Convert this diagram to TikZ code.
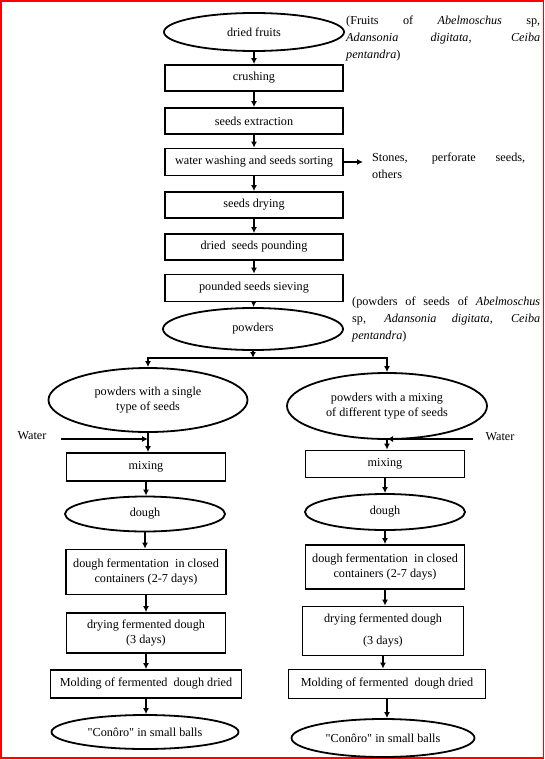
\documentclass[tikz,border=0pt]{standalone}
\usepackage{fontspec}
\setmainfont{Liberation Serif}
\newfontfamily\plainserif{Liberation Serif}
\newcommand{\sq}{{\plainserif"}}
\usetikzlibrary{shapes.geometric,arrows.meta,positioning}

\begin{document}
\begin{tikzpicture}[x=1pt,y=-1pt,
	font=\fontsize{12.2}{15}\selectfont,
	box/.style={draw, line width=1.8pt, inner sep=0pt, align=center},
	oval/.style={ellipse, draw, line width=1.8pt, inner sep=0pt, align=center},
	arr/.style={-{Latex[length=6pt,width=6pt]}, line width=1.3pt},
	twoarr/.style={{Latex[length=6pt,width=6pt]}-{Latex[length=6pt,width=6pt]}, line width=1.3pt},
	note/.style={anchor=north west, inner sep=0pt, align=justify,
		font=\fontsize{12.2}{17}\selectfont}]
		\useasboundingbox (0,0) rectangle (545,760);
		\draw[red, line width=1.5pt] (1,1) rectangle (543.5,758);
		
		% main stem
		\node[oval, minimum width=180, minimum height=38] (11) at (254,32) {dried fruits};
		\node[box, minimum width=178, minimum height=26] (12) at (254,78) {crushing};
		\node[box, minimum width=178, minimum height=26] (13) at (254,121) {seeds extraction};
		\node[box, minimum width=178, minimum height=27] (14) at (254,162) {water washing and seeds sorting};
		\node[box, minimum width=178, minimum height=26] (15) at (254,205) {seeds drying};
		\node[box, minimum width=178, minimum height=26] (16) at (254,247) {dried~ seeds pounding};
		\node[box, minimum width=178, minimum height=27] (17) at (254,288) {pounded seeds sieving};
		\node[oval, minimum width=180, minimum height=42] (18) at (253,329) {powders};
		
		\node[note, text width=194] (51) at (346,16) {(Fruits of \textit{Abelmoschus} sp,\linebreak \textit{Adansonia digitata, Ceiba}\linebreak \textit{pentandra})};
		\node[note, text width=153] (53) at (372,153) {Stones, perforate seeds,\linebreak others};
		\node[note, text width=188] (52) at (352,297) {(powders of seeds of \textit{Abelmoschus}\linebreak sp, \textit{Adansonia digitata, Ceiba}\linebreak \textit{pentandra})};
		\coordinate (s1) at (363,162);
		\coordinate (sp) at (253,358);
		
		% left branch
		\node[oval, minimum width=199, minimum height=64] (21) at (148,400) {powders with a single\\type of seeds};
		\node[box, minimum width=159, minimum height=28] (22) at (146,467) {mixing};
		\node[oval, minimum width=160, minimum height=35] (23) at (145,514) {dough};
		\node[box, minimum width=160, minimum height=45] (24) at (146,572) {dough fermentation~ in closed\\containers (2-7 days)};
		\node[box, minimum width=159, minimum height=40] (25) at (146,633) {drying fermented dough\\(3 days)};
		\node[box, minimum width=191, minimum height=28] (26) at (146,684) {Molding of fermented~ dough dried};
		\node[oval, minimum width=187, minimum height=34] (27) at (145,732) {\sq Conôro\sq{} in small balls};
		\node[inner sep=0pt] (54) at (32,436) {Water};
		\coordinate (w1) at (61,439);
		
		% right branch
		\node[oval, minimum width=200, minimum height=66] (31) at (387,406) {powders with a mixing\\of different type of seeds};
		\node[box, minimum width=159, minimum height=27] (32) at (385,464) {mixing};
		\node[oval, minimum width=160, minimum height=36] (33) at (385,512) {dough};
		\node[box, minimum width=159, minimum height=44] (34) at (385,567) {dough fermentation~ in closed\\containers (2-7 days)};
		\node[box, minimum width=161, minimum height=49] (35) at (383,631) {drying fermented dough\\[7pt](3 days)};
		\node[box, minimum width=197, minimum height=29] (36) at (387,684) {Molding of fermented~ dough dried};
		\node[oval, minimum width=183, minimum height=38] (37) at (383,738) {\sq Conôro\sq{} in small balls};
		\node[inner sep=0pt] (55) at (500,437) {Water};
		\coordinate (w2) at (473,439);
		
		\draw[arr] (11) -- (12);
		\draw[arr] (12) -- (13);
		\draw[arr] (13) -- (14);
		\draw[arr] (14) -- (15);
		\draw[arr] (15) -- (16);
		\draw[arr] (16) -- (17);
		\draw[arr] (17) -- (18);
		\draw[arr] (14) -- (s1);
		\draw[arr] (18) -- (sp);
		\draw[twoarr] (21.north) |- (sp) -| (31.north);
		
		\draw[arr] (21.south) -- (21.south |- 22.north);
		\draw[arr] (w1) -- (w1 -| 21.south);
		\draw[arr] (22) -- (22 |- 23.north);
		\draw[arr] (23) -- (23 |- 24.north);
		\draw[arr] (24) -- (24 |- 25.north);
		\draw[arr] (25) -- (25 |- 26.north);
		\draw[arr] (26) -- (26 |- 27.north);
		
		\draw[arr] (31.south) -- (31.south |- 32.north);
		\draw[arr] (w2) -- (w2 -| 31.south);
		\draw[arr] (32) -- (32 |- 33.north);
		\draw[arr] (33) -- (33 |- 34.north);
		\draw[arr] (34) -- (34 |- 35.north);
		\draw[arr] (35) -- (35 |- 36.north);
		\draw[arr] (36) -- (36 |- 37.north);
\end{tikzpicture}
\end{document}
